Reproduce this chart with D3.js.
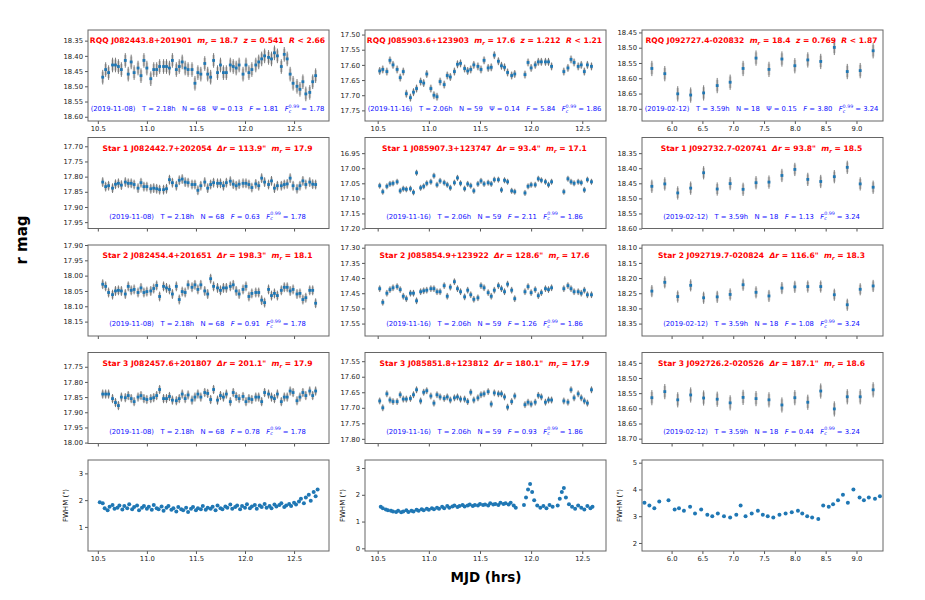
<!DOCTYPE html>
<html>
<head>
<meta charset="utf-8">
<script src="https://cdn.jsdelivr.net/npm/d3@7"></script>
<style>
  body { margin: 0; background: #fff; }
  text { font-family: "DejaVu Sans", sans-serif; white-space: pre; }
</style>
</head>
<body>
<script>
// ---- night info ----
const nightDates = ["2019-11-08", "2019-11-16", "2019-02-12"];
const nightT = ["2.18", "2.06", "3.59"];
const nightN = ["68", "59", "18"];
const nightFc = ["1.78", "1.86", "3.24"];

const rqqNames = ["J082443.8+201901", "J085903.6+123903", "J092727.4-020832"];
const rqqMr = ["18.7", "17.6", "18.4"];
const rqqZ = ["0.541", "1.212", "0.769"];
const rqqR = ["2.66", "1.21", "1.87"];
const rqqPsi = ["0.13", "0.14", "0.15"];
const rqqF = ["1.81", "5.84", "3.80"];

const starNames = [
  ["J082442.7+202054", "J082454.4+201651", "J082457.6+201807"],
  ["J085907.3+123747", "J085854.9+123922", "J085851.8+123812"],
  ["J092732.7-020741", "J092719.7-020824", "J092726.2-020526"]];
const starDr = [["113.9", "198.3", "201.1"], ["93.4", "128.6", "180.1"], ["93.8", "116.6", "187.1"]];
const starMr = [["17.9", "18.1", "17.9"], ["17.1", "17.6", "17.9"], ["18.5", "18.3", "18.6"]];
const starF = [["0.63", "0.91", "0.78"], ["2.11", "1.26", "0.93"], ["1.13", "1.08", "0.44"]];

// ---- observation times (hrs) ----
const time1 = [10.55,10.58,10.61,10.65,10.68,10.71,10.74,10.78,10.81,10.84,10.87,10.91,10.94,10.97,11.00,11.04,11.07,11.10,11.13,11.17,
  11.20,11.23,11.26,11.30,11.33,11.36,11.39,11.42,11.46,11.49,11.52,11.55,11.59,11.62,11.65,11.68,11.72,11.75,11.78,11.81,
  11.85,11.88,11.91,11.94,11.98,12.01,12.04,12.07,12.11,12.14,12.17,12.20,12.24,12.27,12.30,12.33,12.37,12.40,12.43,12.46,
  12.49,12.53,12.56,12.59,12.62,12.66,12.69,12.72];
const time2 = [10.52,10.55,10.59,10.62,10.65,10.69,10.72,10.75,10.78,10.82,10.85,10.88,10.92,10.95,10.98,11.02,11.05,11.08,11.11,11.15,
  11.18,11.21,11.25,11.28,11.31,11.35,11.38,11.41,11.44,11.48,11.51,11.54,11.58,11.61,11.64,11.68,11.71,11.74,11.77,11.81,11.84,
  11.94,11.97,12.00,12.04,12.07,12.10,12.14,12.17,12.20,
  12.32,12.36,12.39,12.42,12.46,12.49,12.52,12.55,12.59];
const time3 = [5.68,5.89,6.10,6.31,6.52,6.74,6.95,7.16,7.37,7.58,7.79,8.00,8.21,8.42,8.64,8.85,9.06,9.27];

// ---- r magnitudes ----
const rqq1 = [18.47,18.445,18.455,18.43,18.43,18.435,18.445,18.415,18.46,18.42,
  18.455,18.44,18.465,18.415,18.44,18.475,18.445,18.445,18.435,18.435,
  18.435,18.44,18.415,18.445,18.435,18.42,18.44,18.445,18.445,18.49,
  18.455,18.46,18.425,18.46,18.47,18.415,18.455,18.43,18.455,18.455,
  18.43,18.435,18.44,18.43,18.46,18.43,18.455,18.445,18.43,18.42,
  18.41,18.40,18.405,18.41,18.39,18.40,18.435,18.395,18.41,18.46,
  18.49,18.50,18.51,18.485,18.525,18.52,18.485,18.465];
const star1a = [17.818,17.833,17.83,17.838,17.825,17.822,17.828,17.818,17.822,17.822,
  17.826,17.838,17.82,17.833,17.833,17.84,17.838,17.84,17.843,17.843,
  17.84,17.81,17.82,17.83,17.812,17.808,17.818,17.82,17.826,17.826,
  17.845,17.83,17.818,17.838,17.826,17.82,17.822,17.822,17.83,17.82,
  17.815,17.825,17.83,17.825,17.822,17.822,17.826,17.836,17.824,17.83,
  17.805,17.818,17.826,17.814,17.838,17.83,17.83,17.826,17.824,17.805,
  17.83,17.84,17.83,17.814,17.826,17.818,17.825,17.826];
const star1b = [18.028,18.035,18.055,18.062,18.05,18.048,18.05,18.06,18.035,18.048,
  18.045,18.055,18.04,18.055,18.052,18.05,18.042,18.032,18.068,18.035,
  18.04,18.045,18.06,18.035,18.078,18.052,18.055,18.03,18.038,18.03,
  18.045,18.03,18.05,18.06,18.01,18.035,18.04,18.048,18.04,18.04,
  18.035,18.03,18.05,18.06,18.045,18.035,18.068,18.058,18.055,18.055,
  18.08,18.088,18.045,18.065,18.058,18.065,18.048,18.038,18.038,18.05,
  18.045,18.06,18.058,18.078,18.072,18.048,18.048,18.09];
const star1c = [17.84,17.84,17.84,17.855,17.868,17.878,17.85,17.852,17.845,17.855,
  17.865,17.85,17.845,17.855,17.858,17.855,17.852,17.845,17.825,17.855,
  17.855,17.848,17.86,17.862,17.855,17.84,17.855,17.843,17.86,17.85,
  17.84,17.85,17.835,17.838,17.858,17.825,17.86,17.845,17.85,17.84,
  17.865,17.835,17.848,17.855,17.848,17.865,17.855,17.858,17.85,17.85,
  17.865,17.835,17.84,17.85,17.855,17.84,17.865,17.85,17.85,17.83,
  17.835,17.862,17.85,17.835,17.845,17.83,17.845,17.83];

const rqq2 = [17.62,17.615,17.622,17.585,17.60,17.615,17.642,17.622,17.695,17.708,
  17.69,17.678,17.655,17.66,17.63,17.678,17.70,17.705,17.655,17.665,
  17.635,17.64,17.622,17.598,17.595,17.612,17.62,17.615,17.60,17.605,
  17.615,17.585,17.61,17.608,17.568,17.588,17.603,17.608,17.625,17.635,17.63,
  17.632,17.592,17.61,17.60,17.59,17.59,17.59,17.59,17.605,
  17.622,17.61,17.582,17.592,17.605,17.60,17.622,17.60,17.605];
const star2a = [17.058,17.078,17.06,17.052,17.05,17.045,17.075,17.068,17.07,17.068,
  17.08,17.015,17.065,17.06,17.05,17.045,17.025,17.055,17.042,17.048,
  17.055,17.065,17.048,17.032,17.05,17.068,17.052,17.058,17.075,17.052,
  17.042,17.052,17.048,17.052,17.038,17.038,17.072,17.04,17.045,17.075,17.078,
  17.082,17.06,17.055,17.055,17.035,17.04,17.045,17.055,17.045,
  17.078,17.035,17.045,17.05,17.045,17.048,17.072,17.038,17.045];
const star2b = [17.435,17.48,17.45,17.438,17.432,17.428,17.438,17.46,17.468,17.45,
  17.45,17.475,17.445,17.442,17.44,17.435,17.435,17.445,17.445,17.425,
  17.46,17.43,17.412,17.435,17.445,17.462,17.44,17.455,17.47,17.465,
  17.425,17.432,17.448,17.46,17.44,17.425,17.435,17.445,17.42,17.44,17.468,
  17.445,17.428,17.448,17.438,17.458,17.448,17.435,17.438,17.432,
  17.435,17.425,17.435,17.445,17.445,17.45,17.44,17.455,17.455];
const star2c = [17.678,17.70,17.655,17.675,17.68,17.68,17.658,17.672,17.672,17.67,
  17.658,17.642,17.678,17.65,17.645,17.662,17.685,17.658,17.665,17.67,
  17.665,17.675,17.668,17.665,17.672,17.672,17.68,17.65,17.675,17.668,
  17.658,17.655,17.648,17.688,17.652,17.655,17.655,17.665,17.698,17.68,17.662,
  17.69,17.682,17.688,17.682,17.66,17.665,17.682,17.675,17.675,
  17.678,17.682,17.642,17.668,17.655,17.668,17.678,17.685,17.642];

const rqq3 = [18.568,18.585,18.651,18.655,18.648,18.624,18.613,18.568,18.534,18.571,18.537,18.559,18.54,18.545,18.499,18.578,18.575,18.51];
const star3a = [18.46,18.452,18.482,18.466,18.415,18.469,18.451,18.47,18.448,18.446,18.424,18.404,18.437,18.444,18.428,18.397,18.452,18.463];
const star3b = [18.243,18.214,18.261,18.224,18.265,18.262,18.254,18.222,18.247,18.259,18.233,18.229,18.228,18.228,18.255,18.288,18.237,18.226];
const star3c = [18.565,18.545,18.572,18.556,18.566,18.57,18.582,18.564,18.568,18.572,18.589,18.565,18.58,18.543,18.602,18.562,18.562,18.539];

// ---- FWHM (arcsec) ----
const fwhmTime1 = [10.52,10.55,10.57,10.60,10.62,10.65,10.67,10.70,10.72,10.75,10.77,10.80,10.82,10.85,10.87,10.90,10.92,10.95,10.97,11.00,
  11.02,11.05,11.07,11.10,11.12,11.15,11.17,11.20,11.22,11.25,11.27,11.30,11.32,11.35,11.37,11.40,11.42,11.45,11.47,11.50,
  11.52,11.55,11.57,11.60,11.62,11.65,11.67,11.70,11.72,11.75,11.77,11.80,11.82,11.85,11.87,11.90,11.92,11.95,11.97,12.00,
  12.02,12.05,12.07,12.10,12.12,12.15,12.17,12.20,12.22,12.25,12.27,12.30,12.32,12.35,12.37,12.40,12.42,12.45,12.47,12.50,
  12.52,12.55,12.57,12.60,12.62,12.65,12.67,12.70,12.72,12.74];
const fwhm1 = [1.92,1.88,1.70,1.62,1.75,1.82,1.68,1.72,1.80,1.65,1.78,1.70,1.85,1.66,1.74,1.80,1.62,1.72,1.78,1.68,
  1.75,1.64,1.82,1.70,1.66,1.76,1.60,1.72,1.78,1.64,1.70,1.58,1.74,1.66,1.62,1.72,1.56,1.68,1.74,1.62,
  1.70,1.66,1.78,1.64,1.72,1.68,1.75,1.62,1.80,1.70,1.66,1.76,1.72,1.84,1.68,1.74,1.80,1.66,1.78,1.72,
  1.85,1.70,1.76,1.82,1.68,1.80,1.74,1.86,1.72,1.78,1.70,1.84,1.76,1.82,1.88,1.74,1.80,1.86,1.78,1.90,
  1.84,1.95,2.05,1.88,2.10,2.20,1.98,2.30,2.15,2.40];
const fwhmTime2 = [10.53,10.55,10.58,10.60,10.63,10.65,10.68,10.70,10.73,10.75,10.78,10.80,10.83,10.85,10.88,10.90,10.93,10.95,10.98,11.00,
  11.03,11.05,11.08,11.10,11.13,11.15,11.18,11.20,11.23,11.25,11.28,11.30,11.33,11.35,11.38,11.40,11.43,11.45,11.48,11.50,
  11.53,11.55,11.58,11.60,11.63,11.65,11.68,11.70,11.73,11.75,11.78,11.80,11.83,11.85,
  11.93,11.95,11.97,11.99,12.01,12.03,12.06,12.09,12.12,12.15,12.18,12.21,
  12.26,12.28,12.30,12.32,12.34,12.37,12.40,12.43,12.46,12.49,12.52,12.55,12.58,12.60];
const fwhm2 = [1.55,1.50,1.45,1.42,1.40,1.38,1.36,1.40,1.35,1.38,1.42,1.36,1.40,1.38,1.44,1.40,1.46,1.42,1.48,1.44,
  1.50,1.46,1.52,1.48,1.55,1.50,1.58,1.52,1.56,1.60,1.54,1.58,1.62,1.56,1.60,1.64,1.58,1.62,1.60,1.66,
  1.62,1.64,1.60,1.68,1.64,1.66,1.62,1.70,1.66,1.68,1.64,1.70,1.60,1.52,
  1.62,1.90,2.20,2.40,2.10,1.80,1.60,1.52,1.58,1.50,1.62,1.55,
  1.60,1.85,2.10,2.25,1.90,1.65,1.55,1.48,1.60,1.52,1.45,1.58,1.50,1.55];
const fwhmTime3 = [5.56,5.64,5.72,5.80,5.95,6.05,6.12,6.20,6.30,6.38,6.48,6.58,6.66,6.75,6.85,6.95,7.05,7.12,7.20,7.30,
  7.40,7.48,7.56,7.65,7.75,7.85,7.95,8.05,8.12,8.20,8.28,8.38,8.46,8.55,8.62,8.70,8.78,8.86,8.95,9.05,9.12,9.20,9.30,9.38];
const fwhm3 = [3.50,3.40,3.30,3.55,3.60,3.25,3.30,3.20,3.35,3.10,3.25,3.05,3.00,3.10,3.00,2.95,3.05,3.40,3.00,3.10,
  3.20,3.05,3.00,2.95,3.05,3.10,3.15,3.20,3.10,3.00,2.95,2.90,3.40,3.35,3.45,3.60,3.80,3.50,4.00,3.70,3.60,3.70,3.65,3.75];

// ---- axis ticks ----
const xTicksA = [10.5, 11.0, 11.5, 12.0, 12.5];
const xTicksC = [6.0, 6.5, 7.0, 7.5, 8.0, 8.5, 9.0];
const xDomains = [[10.40, 12.856], [10.376, 12.732], [5.52, 9.43]];

const magDomains = [
  [[18.315, 18.614], [17.485, 17.785], [18.442, 18.740]],
  [[17.671, 17.971], [16.898, 17.200], [18.298, 18.600]],
  [[17.900, 18.197], [17.291, 17.591], [18.091, 18.391]],
  [[17.703, 18.003], [17.522, 17.815], [18.416, 18.716]]];
const magTicks = [
  [[18.35, 18.40, 18.45, 18.50, 18.55, 18.60], [17.50, 17.55, 17.60, 17.65, 17.70, 17.75], [18.45, 18.50, 18.55, 18.60, 18.65, 18.70]],
  [[17.70, 17.75, 17.80, 17.85, 17.90, 17.95], [16.95, 17.00, 17.05, 17.10, 17.15, 17.20], [18.35, 18.40, 18.45, 18.50, 18.55, 18.60]],
  [[17.90, 17.95, 18.00, 18.05, 18.10, 18.15], [17.30, 17.35, 17.40, 17.45, 17.50, 17.55], [18.10, 18.15, 18.20, 18.25, 18.30, 18.35]],
  [[17.75, 17.80, 17.85, 17.90, 17.95, 18.00], [17.55, 17.60, 17.65, 17.70, 17.75, 17.80], [18.45, 18.50, 18.55, 18.60, 18.65, 18.70]]];
const magErr = [[0.024, 0.013, 0.025], [0.016, 0.010, 0.022], [0.016, 0.011, 0.020], [0.015, 0.011, 0.025]];

const fwhmDomains = [[0.1, 3.5], [-0.1, 3.3], [1.7, 5.1]];
const fwhmTicks = [[1, 2, 3], [0, 1, 2, 3], [2, 3, 4, 5]];

// ---- layout ----
const colX = [88, 365, 642], colW = 241;
const rowY = [30, 137.5, 245, 352.5, 460], rowH = 91;
const tickFont = 6.8, titleFont = 7.6, infoFont = 6.8;
const blue = "#1f77b4";

const svg = d3.select("body").append("svg").attr("width", 925).attr("height", 600);

// rich text: parts = [{t, i, sub, sup, dx}]
function rich(textSel, parts, size) {
  let cur = 0;
  parts.forEach(p => {
    const off = p.sub ? size * 0.28 : p.sup ? -size * 0.45 : 0;
    const ts = textSel.append("tspan").text(p.t);
    if (off !== cur) ts.attr("dy", off - cur);
    cur = off;
    if (p.i) ts.attr("font-style", "italic");
    if (p.sub || p.sup) ts.attr("font-size", size * 0.7);
    if (p.dx) ts.attr("dx", p.dx);
  });
}

function axes(g, x, y, xt, yt, showX, yFmt) {
  const [top, bot] = d3.extent(y.range());
  const [left, right] = x.range();
  g.append("g").attr("transform", `translate(0,${bot})`)
    .call(d3.axisBottom(x).tickValues(xt).tickSize(3).tickPadding(2)
      .tickFormat(showX ? d3.format(".1f") : ""))
    .call(a => a.select(".domain").remove());
  g.append("g").attr("transform", `translate(${left},0)`)
    .call(d3.axisLeft(y).tickValues(yt).tickSize(3).tickPadding(2).tickFormat(yFmt))
    .call(a => a.select(".domain").remove());
  g.selectAll(".tick text").attr("font-size", tickFont).attr("fill", "#222")
    .attr("font-family", "DejaVu Sans");
  g.selectAll(".tick line").attr("stroke", "#555");
  g.append("rect")
    .attr("x", left).attr("y", top)
    .attr("width", right - left).attr("height", bot - top)
    .attr("fill", "none").attr("stroke", "#666").attr("stroke-width", 1);
}

function lightPanel(c, r, times, mags, titleParts, infoParts) {
  const x0 = colX[c], y0 = rowY[r];
  const x = d3.scaleLinear().domain(xDomains[c]).range([x0, x0 + colW]);
  const y = d3.scaleLinear().domain(magDomains[r][c]).range([y0, y0 + rowH]);
  const g = svg.append("g");
  axes(g, x, y, c === 2 ? xTicksC : xTicksA, magTicks[r][c], r === 0, d3.format(".2f"));

  const pts = d3.zip(times, mags);
  const e = magErr[r][c];
  g.append("g").selectAll("line").data(pts).join("line")
    .attr("x1", d => x(d[0])).attr("x2", d => x(d[0]))
    .attr("y1", d => y(d[1] - e * 0.75)).attr("y2", d => y(d[1] + e * 0.75))
    .attr("stroke", "#cfcfcf").attr("stroke-width", 2.6);
  g.append("g").selectAll("line").data(pts).join("line")
    .attr("x1", d => x(d[0])).attr("x2", d => x(d[0]))
    .attr("y1", d => y(d[1] - e)).attr("y2", d => y(d[1] + e))
    .attr("stroke", "#5a5a5a").attr("stroke-width", 0.8);
  g.append("g").selectAll("rect").data(pts).join("rect")
    .attr("x", d => x(d[0]) - 1.4).attr("y", d => y(d[1]) - 1.4)
    .attr("width", 2.8).attr("height", 2.8).attr("fill", blue);

  const cx = x0 + colW / 2 - 1;
  rich(g.append("text").attr("x", cx).attr("y", y0 + 13.3).attr("text-anchor", "middle")
    .attr("font-size", titleFont).attr("font-weight", "bold").attr("fill", "#ff0000"), titleParts, titleFont);
  rich(g.append("text").attr("x", cx).attr("y", y0 + rowH - 10).attr("text-anchor", "middle")
    .attr("font-size", infoFont).attr("fill", "#1010ff"), infoParts, infoFont);
}

function fwhmPanel(c, times, vals) {
  const x0 = colX[c], y0 = rowY[4];
  const x = d3.scaleLinear().domain(xDomains[c]).range([x0, x0 + colW]);
  const y = d3.scaleLinear().domain(fwhmDomains[c]).range([y0 + rowH, y0]);
  const g = svg.append("g");
  axes(g, x, y, c === 2 ? xTicksC : xTicksA, fwhmTicks[c], true, d3.format("d"));
  g.append("g").selectAll("circle").data(d3.zip(times, vals)).join("circle")
    .attr("cx", d => x(d[0])).attr("cy", d => y(d[1])).attr("r", 2).attr("fill", blue);
  g.append("text").attr("transform", `translate(${x0 - 20},${y0 + rowH / 2}) rotate(-90)`)
    .attr("text-anchor", "middle").attr("font-size", 7).text("FWHM (\")");
}

function info(c, extra) {
  const parts = [{ t: `(${nightDates[c]})   T = ${nightT[c]}h   N = ${nightN[c]}   ` }];
  return parts.concat(extra, [
    { t: "F", i: 1 }, { t: "c", i: 1, sub: 1 }, { t: "0.99", sup: 1, dx: -infoFont * 0.4 }, { t: " = " + nightFc[c] }]);
}

const nightTimes = [time1, time2, time3];
const rqqMags = [rqq1, rqq2, rqq3];
const starMags = [[star1a, star1b, star1c], [star2a, star2b, star2c], [star3a, star3b, star3c]];
const fwhmT = [fwhmTime1, fwhmTime2, fwhmTime3];
const fwhmV = [fwhm1, fwhm2, fwhm3];

for (let c = 0; c < 3; c++) {
  lightPanel(c, 0, nightTimes[c], rqqMags[c],
    [{ t: `RQQ ${rqqNames[c]}  ` }, { t: "m", i: 1 }, { t: "r", i: 1, sub: 1 }, { t: ` = ${rqqMr[c]}  ` },
     { t: "z", i: 1 }, { t: ` = ${rqqZ[c]}  ` }, { t: "R", i: 1 }, { t: ` < ${rqqR[c]}` }],
    info(c, [{ t: `\u03A8 = ${rqqPsi[c]}   ` }, { t: "F", i: 1 }, { t: ` = ${rqqF[c]}   ` }]));
  for (let s = 0; s < 3; s++) {
    lightPanel(c, s + 1, nightTimes[c], starMags[c][s],
      [{ t: `Star ${s + 1} ${starNames[c][s]}  ` }, { t: "\u0394r", i: 1 }, { t: ` = ${starDr[c][s]}"  ` },
       { t: "m", i: 1 }, { t: "r", i: 1, sub: 1 }, { t: ` = ${starMr[c][s]}` }],
      info(c, [{ t: "F", i: 1 }, { t: ` = ${starF[c][s]}   ` }]));
  }
  fwhmPanel(c, fwhmT[c], fwhmV[c]);
}

svg.append("text").attr("x", 486).attr("y", 582).attr("text-anchor", "middle")
  .attr("font-size", 13.5).attr("font-weight", "bold").text("MJD (hrs)");
svg.append("text").attr("transform", "translate(27,240) rotate(-90)").attr("text-anchor", "middle")
  .attr("font-size", 15).attr("font-weight", "bold").text("r mag");
</script>
</body>
</html>
